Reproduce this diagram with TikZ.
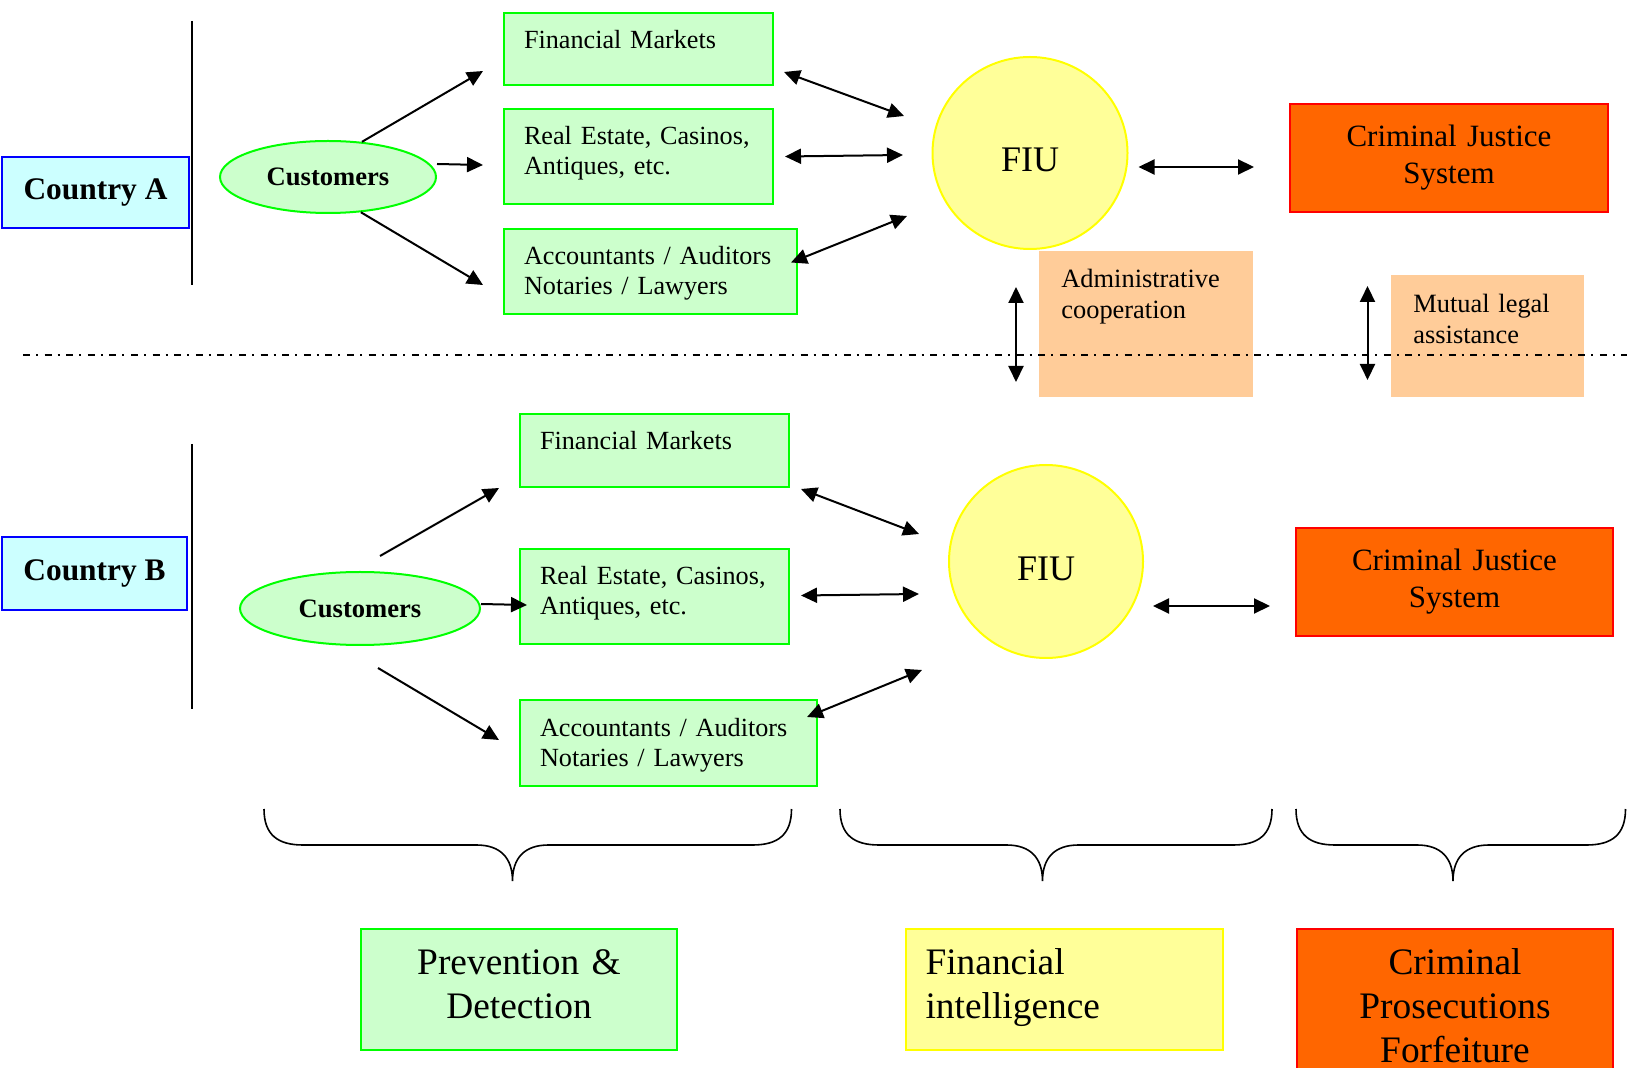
\documentclass[tikz,border=0pt]{standalone}
\usepackage{fontspec}
\setmainfont{Liberation Serif}
\usetikzlibrary{arrows.meta,shapes.geometric}
\definecolor{sectfill}{HTML}{CCFFCC}
\definecolor{sectline}{HTML}{00FF00}
\definecolor{ctryfill}{HTML}{CCFFFF}
\definecolor{fiufill}{HTML}{FFFF99}
\definecolor{fiuline}{HTML}{FFFF00}
\definecolor{cjsfill}{HTML}{FF6600}
\definecolor{cjsline}{HTML}{FF0000}
\definecolor{coopfill}{HTML}{FFCC99}
\tikzset{
  country/.style={draw=blue,fill=ctryfill,line width=1pt,inner sep=0pt,font=\bfseries\fontsize{15.7pt}{18pt}\selectfont},
  cust/.style={ellipse,draw=sectline,fill=sectfill,line width=1pt,inner sep=0pt,font=\bfseries\fontsize{13.3pt}{15pt}\selectfont},
  sector/.style={draw=sectline,fill=sectfill,line width=1pt,anchor=north west,align=left,inner xsep=10pt,inner ysep=0pt,text height=18pt,font=\fontsize{13.1pt}{15pt}\selectfont},
  fiu/.style={ellipse,draw=fiuline,fill=fiufill,line width=1pt,inner sep=0pt,text height=19pt,text depth=0pt,font=\fontsize{18pt}{21pt}\selectfont},
  cjs/.style={draw=cjsline,fill=cjsfill,line width=1pt,align=center,inner xsep=10pt,minimum height=54pt,font=\fontsize{15.5pt}{18.5pt}\selectfont},
  coop/.style={fill=coopfill,anchor=north west,align=left,inner xsep=11pt,inner ysep=0pt,font=\fontsize{13.2pt}{15.5pt}\selectfont},
  phase/.style={anchor=north west,line width=1pt,inner xsep=10pt,inner ysep=0pt,text height=22.5pt,font=\fontsize{18.7pt}{22pt}\selectfont},
  arr/.style={line width=1pt,-{Triangle[length=8pt,width=7.5pt]}},
  dbl/.style={line width=1pt,{Triangle[length=8pt,width=7.5pt]}-{Triangle[length=8pt,width=7.5pt]}}
}
\begin{document}
\begin{tikzpicture}[x=0.5pt,y=-0.5pt]
  \useasboundingbox (0,0) rectangle (1627,1068);
  % country A
  \node[country,minimum width=93.5pt,minimum height=35.5pt] (ctryA) at (95.5,192.5) {Country A};
  \draw[line width=0.8pt] (192,21) -- (192,285);
  \node[cust,minimum width=108pt,minimum height=36pt] (custA) at (328,177) {Customers};
  \node[sector,text width=114.5pt,text depth=18pt] (fmA) at (503,12) {Financial Markets};
  \node[sector,text width=114.5pt,text depth=29.5pt] (reA) at (503,108) {Real Estate, Casinos,\\Antiques, etc.};
  \node[sector,text width=126.5pt,text depth=24.5pt] (accA) at (503,228) {Accountants / Auditors\\Notaries / Lawyers};
  \node[fiu,minimum width=97.5pt,minimum height=96pt] (fiuA) at (1030,153) {FIU};
  \node[cjs,text width=139pt] (cjsA) at (1449,158) {Criminal Justice\\System};
  % country B
  \node[country,minimum width=92.5pt,minimum height=36.5pt] (ctryB) at (94.5,573.5) {Country B};
  \draw[line width=0.8pt] (192,444) -- (192,709);
  \node[cust,minimum width=120pt,minimum height=36.5pt] (custB) at (360,608.5) {Customers};
  \node[sector,text width=114.5pt,text depth=18.5pt] (fmB) at (519,413) {Financial Markets};
  \node[sector,text width=114.5pt,text depth=29.5pt] (reB) at (519,548) {Real Estate, Casinos,\\Antiques, etc.};
  \node[sector,text width=128.5pt,text depth=25pt] (accB) at (519,699) {Accountants / Auditors\\Notaries / Lawyers};
  \node[fiu,minimum width=97pt,minimum height=96.5pt] (fiuB) at (1046,561.5) {FIU};
  \node[cjs,text width=138.5pt] (cjsB) at (1454.5,582) {Criminal Justice\\System};
  % cooperation
  \node[coop,text width=84.75pt,text height=18pt,text depth=55pt] (admin) at (1039,251) {Administrative\\cooperation};
  \node[coop,text width=74.5pt,text height=18.5pt,text depth=42.5pt] (mutual) at (1391,275) {Mutual legal\\assistance};
  \draw[line width=1pt,dash pattern=on 3.5pt off 3pt on 1pt off 3.3pt] (23,355) -- (1627,355);
  \draw[dbl] ([shift={(-23,36)}]admin.north west) -- ([shift={(-23,131)}]admin.north west);
  \draw[dbl] ([shift={(-23.5,11)}]mutual.north west) -- ([shift={(-23.5,105)}]mutual.north west);
  % connectors A
  \draw[arr] (custA.46) -- ([shift={(-20,-15)}]fmA.south west);
  \draw[arr] ([yshift=6.5pt]custA.east) -- ([shift={(-20,8.5)}]reA.west);
  \draw[arr] (custA.-47) -- ([shift={(-20,13.5)}]accA.west);
  \draw[dbl] ([shift={(10,-14)}]fmA.south east) -- ([shift={(-126,-37)}]fiuA.center);
  \draw[dbl] ([shift={(11,0)}]reA.east) -- ([shift={(-127,2)}]fiuA.center);
  \draw[dbl] ([shift={(-7,-9)}]accA.east) -- ([shift={(-123,63)}]fiuA.center);
  \draw[dbl] ([shift={(10,14)}]fiuA.east) -- ([shift={(-35,9)}]cjsA.west);
  % connectors B
  \draw[arr] ([shift={(20,-15)}]custB.north) -- ([shift={(-20,0)}]fmB.south west);
  \draw[arr] ([yshift=2.25pt]custB.east) -- ([shift={(8,8.5)}]reB.west);
  \draw[arr] ([shift={(18,22)}]custB.south) -- ([shift={(-20,-3)}]accB.west);
  \draw[dbl] ([shift={(11,1)}]fmB.south east) -- ([shift={(-127,-27.5)}]fiuB.center);
  \draw[dbl] ([shift={(11,-1)}]reB.east) -- ([shift={(-127,32.5)}]fiuB.center);
  \draw[dbl] ([shift={(-11,-26)}]accB.east) -- ([shift={(-124,108.5)}]fiuB.center);
  \draw[dbl] ([shift={(9,44.5)}]fiuB.east) -- ([shift={(-25,24)}]cjsB.west);
  % braces
  \foreach \l/\m/\r in {264/512.5/791.5,840/1042.5/1272,1296/1453/1625.5}
    \draw[line width=0.8pt] (\l,809) .. controls (\l,835) and (\l+14,845) .. (\l+39,845) -- (\m-36,845)
      .. controls (\m-12,845) and (\m,858) .. (\m,881) .. controls (\m,858) and (\m+12,845) .. (\m+36,845)
      -- (\r-39,845) .. controls (\r-14,845) and (\r,835) .. (\r,809);
  % phases
  \node[phase,draw=sectline,fill=sectfill,align=center,text width=138pt,text depth=38pt] (prev) at (360,928) {Prevention \&\\Detection};
  \node[phase,draw=fiuline,fill=fiufill,align=left,text width=138.75pt,text depth=38pt] (intel) at (904.5,928) {Financial\\intelligence};
  \node[phase,draw=cjsline,fill=cjsfill,align=center,text width=138pt,text depth=52.5pt] (pros) at (1296,928) {Criminal\\Prosecutions\\Forfeiture};
\end{tikzpicture}
\end{document}
